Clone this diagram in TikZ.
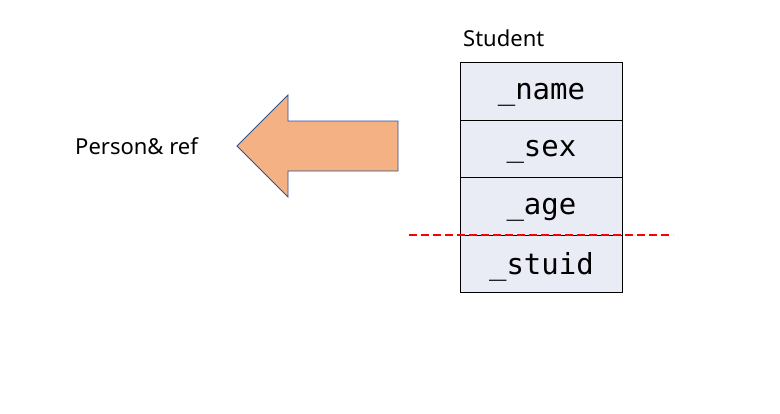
\documentclass[tikz,border=0pt]{standalone}
\usepackage{fontspec}
\setmainfont{Noto Sans}
\setmonofont{DejaVu Sans Mono}
\definecolor{cellfill}{HTML}{E9EBF5}
\definecolor{arrowfill}{HTML}{F4B183}
\definecolor{arrowline}{HTML}{2F528F}
\begin{document}
\begin{tikzpicture}[x=1pt,y=-1pt,
  cell/.style={draw=black,line width=0.9pt,fill=cellfill,minimum width=162pt,minimum height=57.5pt,inner sep=0pt,anchor=north west,text depth=0pt,font=\fontsize{29}{31}\selectfont\ttfamily},
  lbl/.style={inner sep=0pt,font=\fontsize{22}{24}\selectfont}]
\useasboundingbox (0,0) rectangle (780,413);
\node[cell] (c1) at (460,62) {\_name};
\node[cell] (c2) at (460,119.5) {\_sex};
\node[cell] (c3) at (460,177) {\_age};
\node[cell] (c4) at (460,234.5) {\_stuid};
\node[lbl,anchor=west] (stu) at (463,38) {Student};
\node[lbl,anchor=west] (per) at (75,146) {Person\& ref};
\draw[arrowline,fill=arrowfill,line width=0.8pt]
  (237,146) -- (288,95) -- (288,121) -- (398,121) -- (398,171) -- (288,171) -- (288,197) -- cycle;
\coordinate (d1) at (409,235);
\coordinate (d2) at (673,235);
\draw[red,line width=2.6pt,dash pattern=on 8pt off 4pt] (d1) -- (d2);
\end{tikzpicture}
\end{document}
